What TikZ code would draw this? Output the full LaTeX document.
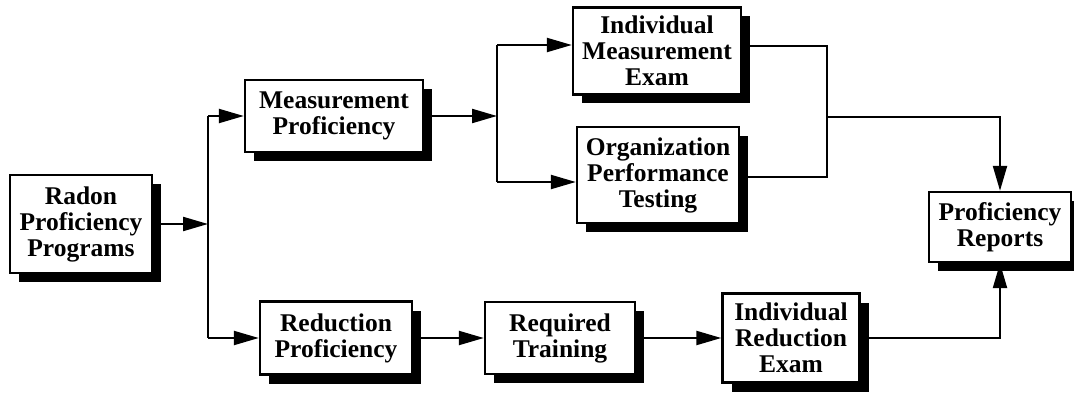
\documentclass[tikz,border=0pt]{standalone}
\usepackage{fontspec}
\setmainfont{Liberation Serif}
\usetikzlibrary{arrows.meta,shadows}
\begin{document}
\begin{tikzpicture}[x=1pt,y=-1pt,
  box/.style={draw,line width=2.4pt,fill=white,align=center,inner sep=0pt,
    font=\fontsize{25.5}{26}\selectfont\bfseries,
    general shadow={fill=black,shadow xshift=9pt,shadow yshift=-9pt}},
  conn/.style={line width=2.2pt},
  arr/.style={conn,-{Triangle[length=25pt,width=14pt]}}]
\useasboundingbox (0,0) rectangle (1074,393);
% nodes
\node[box,minimum width=142pt,minimum height=98pt] (R) at (81,224) {Radon\\Proficiency\\Programs};
\node[box,minimum width=178pt,minimum height=72pt] (MP) at (334,116) {Measurement\\Proficiency};
\node[box,minimum width=168pt,minimum height=87pt] (IME) at (657,51) {Individual\\Measurement\\Exam};
\node[box,minimum width=162pt,minimum height=96pt] (ORG) at (658,175) {Organization\\Performance\\Testing};
\node[box,minimum width=142pt,minimum height=70pt] (PR) at (1000,227) {Proficiency\\Reports};
\node[box,minimum width=152pt,minimum height=73pt] (RP) at (336,338) {Reduction\\Proficiency};
\node[box,minimum width=150pt,minimum height=72pt] (RT) at (560,338) {Required\\Training};
\node[box,minimum width=137pt,minimum height=89pt] (IRE) at (791,338) {Individual\\Reduction\\Exam};
% junction coordinates
\coordinate (jL) at (208,224);
\coordinate (lt) at (208,116);
\coordinate (lb) at (208,338);
\coordinate (jM) at (497,116);
\coordinate (mt) at (497,45);
\coordinate (mb) at (497,182);
\coordinate (rt) at (827,46);
\coordinate (rb) at (827,177);
\coordinate (rm) at (827,117);
% connectors
\draw[arr] (R.east) -- (jL);
\draw[conn] (lt) -- (lb);
\draw[arr] (lt) -- (lt -| MP.west);
\draw[arr] (lb) -- (lb -| RP.west);
\draw[arr] (MP.east) -- (jM);
\draw[conn] (mt) -- (mb);
\draw[arr] (mt) -- (mt -| IME.west);
\draw[arr] (mb) -- (mb -| ORG.west);
\draw[conn] (rt -| IME.east) -- (rt) -- (rb) -- (rb -| ORG.east);
\draw[arr] (rm) -| (PR.north);
\draw[arr] (RP.east) -- (RT.west);
\draw[arr] (RT.east) -- (IRE.west);
\draw[arr] (IRE.east) -| (PR.south);
\end{tikzpicture}
\end{document}
